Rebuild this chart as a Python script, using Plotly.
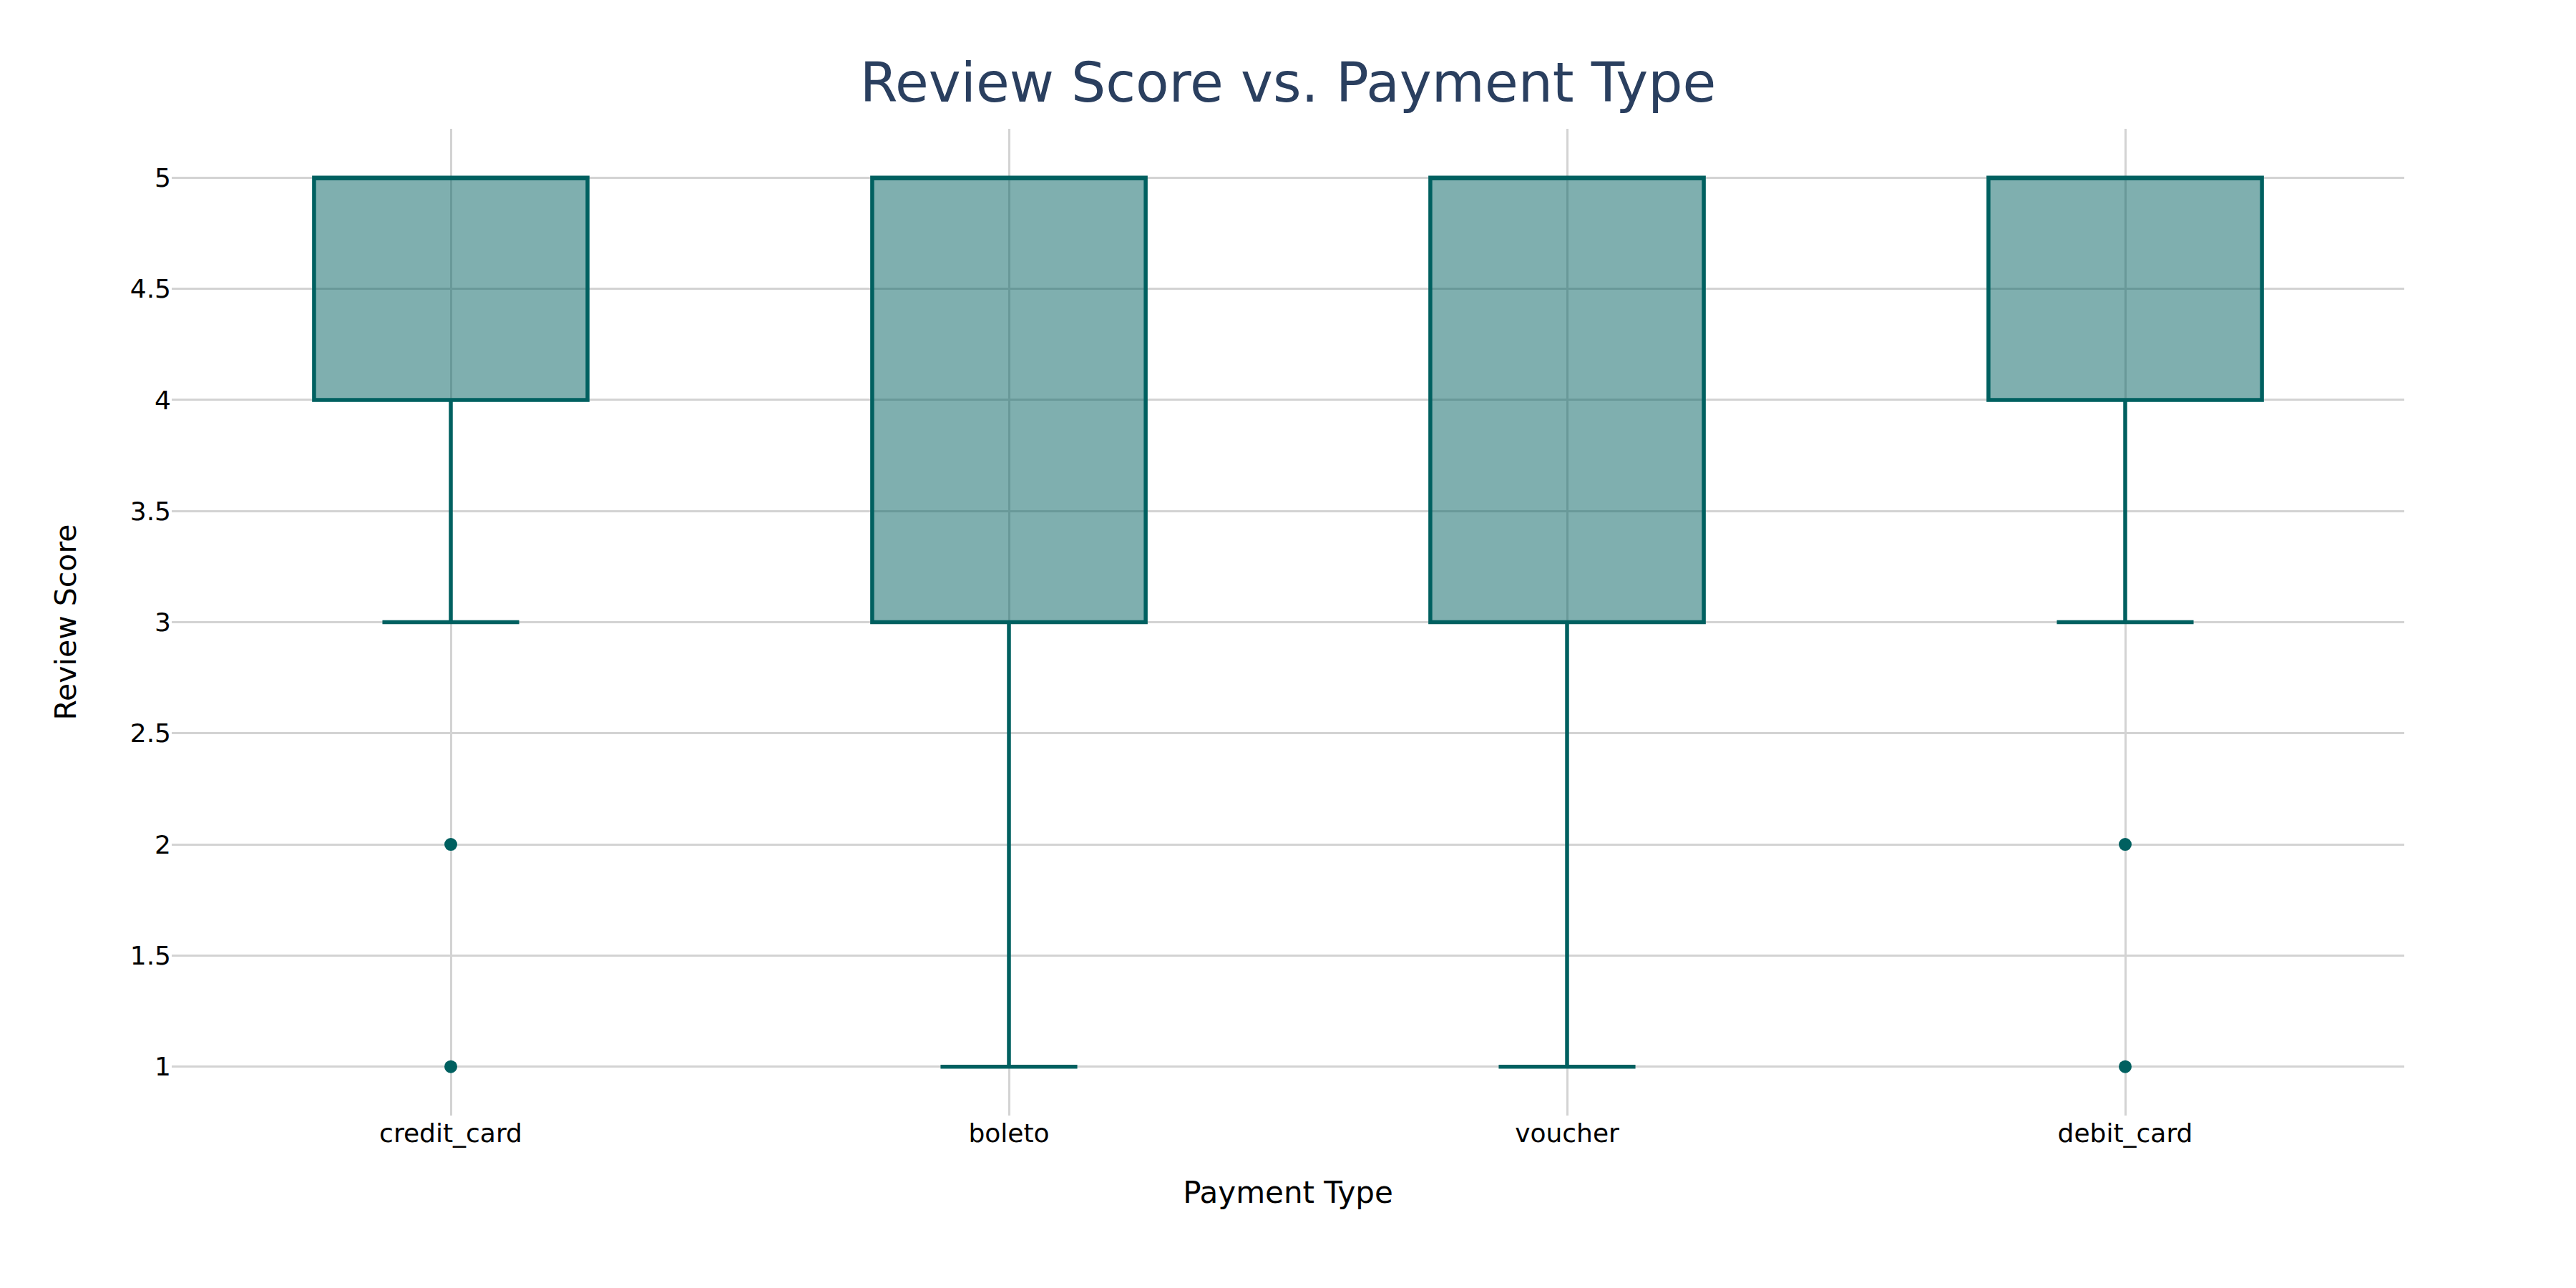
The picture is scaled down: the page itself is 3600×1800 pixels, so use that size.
import plotly.graph_objects as go

categories = ["credit_card", "boleto", "voucher", "debit_card"]
q1 = [4, 3, 3, 4]
median = [5, 5, 5, 5]
q3 = [5, 5, 5, 5]
lowerfence = [3, 1, 1, 3]
upperfence = [5, 5, 5, 5]
outlier_x = ["credit_card", "credit_card", "debit_card", "debit_card"]
outlier_y = [2, 1, 2, 1]

LINE = "#006060"
FILL = "rgba(0,96,96,0.5)"
FONT = "DejaVu Sans"

fig = go.Figure()
fig.add_trace(go.Box(
    x=categories, q1=q1, median=median, q3=q3,
    lowerfence=lowerfence, upperfence=upperfence,
    fillcolor=FILL, line=dict(color=LINE, width=5.5),
    boxpoints=False, whiskerwidth=0.5, showlegend=False,
))
fig.add_trace(go.Scatter(
    x=outlier_x, y=outlier_y, mode="markers",
    marker=dict(color=LINE, size=18), showlegend=False,
))

fig.update_layout(
    width=3600, height=1800,
    paper_bgcolor="white", plot_bgcolor="white",
    margin=dict(l=232, r=248, t=172, b=249),
    title=dict(text="Review Score vs. Payment Type", x=1792 / 3600, xanchor="center",
               y=1 - 107 / 1800, yanchor="middle",
               font=dict(family=FONT, size=76, color="#2a3f5f")),
    font=dict(family=FONT, color="black"),
    xaxis=dict(
        title=dict(text="Payment Type", font=dict(size=42, color="black"), standoff=48),
        tickfont=dict(size=36, color="black"),
        showgrid=True, gridcolor="lightgray", gridwidth=3,
        showline=False, zeroline=False, ticks="", automargin=False,
    ),
    yaxis=dict(
        title=dict(text="Review Score", font=dict(size=41, color="black"), standoff=62),
        tickfont=dict(size=36, color="black"),
        range=[0.78, 5.22], dtick=0.5,
        showgrid=True, gridcolor="lightgray", gridwidth=3,
        showline=False, zeroline=False, ticks="", automargin=False,
    ),
)

fig.write_html("out.html")
